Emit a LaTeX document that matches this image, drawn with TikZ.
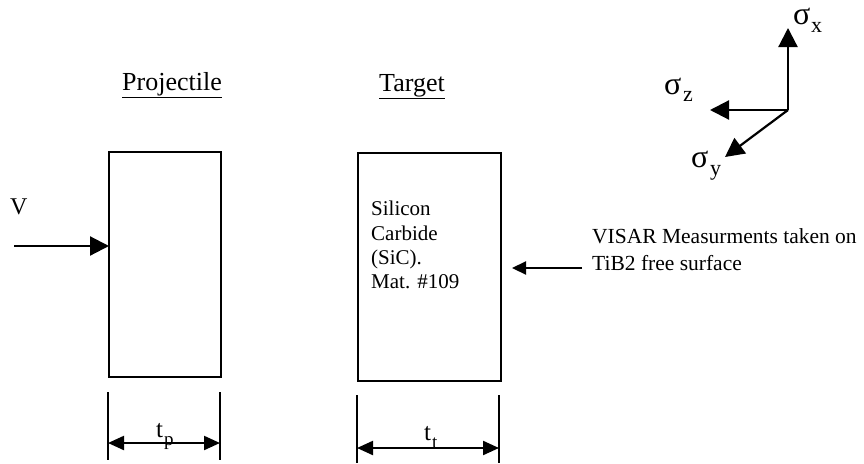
\documentclass[tikz,border=0pt]{standalone}
\usepackage{fontspec}
\setmainfont{Liberation Serif}
\usetikzlibrary{arrows.meta}
\begin{document}
\begin{tikzpicture}[x=1pt,y=-1pt,
  ln/.style={line width=2.2pt},
  bigtip/.style={-{Triangle[length=19pt,width=19pt]}},
  smalltip/.style={-{Triangle[length=14pt,width=13pt]}},
  dimtip/.style={{Triangle[length=16pt,width=14pt]}-{Triangle[length=16pt,width=14pt]}},
  lab/.style={font=\fontsize{26}{26}\selectfont,anchor=base,inner sep=0pt},
  txt/.style={font=\fontsize{21}{24.3}\selectfont,align=left,inner sep=0pt,anchor=north west},
  sig/.style={font=\fontsize{32}{32}\selectfont,inner sep=0pt,anchor=base west},
  sub/.style={font=\fontsize{22}{22}\selectfont,inner sep=0pt,anchor=base west},
  tlab/.style={font=\fontsize{25}{25}\selectfont,inner sep=0pt,anchor=base west},
  tsub/.style={font=\fontsize{19}{19}\selectfont,inner sep=0pt,anchor=base west}]
\useasboundingbox (0,0) rectangle (864,463);

% titles
\node[lab] (ptitle) at (172,90) {\underline{Projectile}};
\node[lab] (ttitle) at (412,91) {\underline{Target}};

% boxes
\node[draw,line width=2.4pt,minimum width=112pt,minimum height=225pt,inner sep=0pt] (proj) at (165,264.5) {};
\node[draw,line width=2.4pt,minimum width=143pt,minimum height=228pt,inner sep=0pt] (targ) at (429.5,267) {};

% target text
\node[txt] (ttext) at (371,201) {Silicon\\Carbide\\(SiC).\\Mat. \#109};

% V arrow
\node[font=\fontsize{24}{24}\selectfont,inner sep=0pt,anchor=base west] (V) at (10,214) {V};
\coordinate (vs) at (14,246);
\coordinate (ve) at (109,246);
\draw[ln,bigtip] (vs) -- (ve);

% VISAR arrow
\coordinate (vis) at (582,268);
\coordinate (vie) at (512,268);
\draw[ln,smalltip] (vis) -- (vie);
\node[font=\fontsize{21.5}{27}\selectfont,align=left,inner sep=0pt,anchor=north west] (visar) at (592,228) {VISAR Measurments taken on\\TiB2 free surface};

% dimension lines projectile
\coordinate (p1a) at (108,392); \coordinate (p1b) at (108,460);
\coordinate (p2a) at (220,392); \coordinate (p2b) at (220,460);
\draw[line width=2.4pt] (p1a) -- (p1b);
\draw[line width=2.4pt] (p2a) -- (p2b);
\coordinate (pl) at (108,443); \coordinate (pr) at (220,443);
\draw[ln,dimtip] (pl) -- (pr);
\node[tlab] (tp) at (156,437) {t};
\node[tsub] (tps) at (164,445) {p};

% dimension lines target
\coordinate (t1a) at (357,395); \coordinate (t1b) at (357,463);
\coordinate (t2a) at (499,395); \coordinate (t2b) at (499,463);
\draw[line width=2.4pt] (t1a) -- (t1b);
\draw[line width=2.4pt] (t2a) -- (t2b);
\coordinate (tl) at (357,448); \coordinate (tr) at (499,448);
\draw[ln,dimtip] (tl) -- (tr);
\node[tlab] (tt) at (424,440) {t};
\node[tsub] (tts) at (432,448) {t};

% axes
\coordinate (o) at (788,110);
\coordinate (ax) at (788,28);
\coordinate (az) at (710,110);
\coordinate (ay) at (725,157);
\draw[ln,bigtip] (o) -- (ax);
\draw[ln,bigtip] (o) -- (az);
\draw[ln,bigtip] (o) -- (ay);
\node[sig] (sx) at (793,24) {σ};
\node[sub] (sxs) at (811,32) {x};
\node[sig] (sz) at (664,94) {σ};
\node[sub] (szs) at (683,101) {z};
\node[sig] (sy) at (691,167) {σ};
\node[sub] (sys) at (710,175) {y};
\end{tikzpicture}
\end{document}
